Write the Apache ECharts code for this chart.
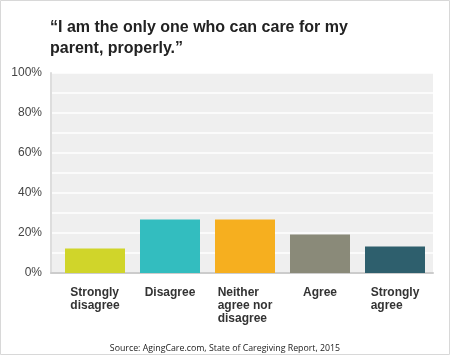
<!DOCTYPE html>
<html><head><meta charset="utf-8">
<script src="https://cdn.jsdelivr.net/npm/echarts@6/dist/echarts.min.js"></script>
<style>html,body{margin:0;padding:0;background:#fff}#c{width:450px;height:355px}</style>
</head><body><div id="c"></div>
<script>
const categories = ['Strongly\ndisagree', 'Disagree', 'Neither\nagree nor\ndisagree', 'Agree', 'Strongly\nagree'];
const values = [12.2, 26.7, 26.7, 19.2, 13.2];
const barColors = ['#d0d52a', '#33bdbf', '#f6af1f', '#8a8a79', '#2e5f6d'];
const titleText = '\u201cI am the only one who can care for my\nparent, properly.\u201d';
const sourceText = 'Source: AgingCare.com, State of Caregiving Report, 2015';

const chart = echarts.init(document.getElementById('c'), null, {renderer: 'canvas'});
chart.setOption({
  animation: false,
  backgroundColor: '#fff',
  title: [{
    text: titleText, left: 50, top: 17, padding: 0,
    textStyle: {fontFamily: 'Liberation Sans', fontWeight: 'bold', fontSize: 16, lineHeight: 21, color: '#222'}
  }, {
    text: sourceText, left: 'center', top: 343, padding: 0,
    textStyle: {fontFamily: 'Open Sans', fontWeight: 'normal', fontSize: 8.8, lineHeight: 11, color: '#222'}
  }],
  graphic: [{
    type: 'rect', shape: {x: 0.5, y: 0.5, width: 449, height: 354},
    style: {fill: 'none', stroke: '#d8d8d8', lineWidth: 1}, silent: true, z: 100
  }],
  grid: [
    {left: 51, right: 17, top: 73, bottom: 82, show: true, backgroundColor: '#efefef', borderWidth: 0},
    {left: 57.5, right: 17.5, top: 73, bottom: 82}
  ],
  xAxis: [{
    gridIndex: 0, type: 'category', data: categories,
    axisLine: {show: true, lineStyle: {color: '#cccccc', width: 2}},
    axisTick: {show: false}, axisLabel: {show: false}, splitLine: {show: false}
  }, {
    gridIndex: 1, type: 'category', data: categories,
    axisLine: {show: false}, axisTick: {show: false},
    axisLabel: {
      interval: 0, margin: 13,
      formatter: v => v.split('\n').map(s => '{a|' + s + '}').join('\n'),
      rich: {a: {align: 'left', fontFamily: 'Liberation Sans', fontWeight: 'bold', fontSize: 12, lineHeight: 13, color: '#333'}}
    }
  }],
  yAxis: [{
    gridIndex: 0, type: 'value', min: 0, max: 100, interval: 10,
    axisLine: {show: true, lineStyle: {color: '#dddddd', width: 2}},
    axisTick: {show: false},
    splitLine: {show: true, lineStyle: {color: '#ffffff', width: 1.5}},
    axisLabel: {
      margin: 9, fontFamily: 'Liberation Sans', fontSize: 12, color: '#444',
      formatter: v => (v % 20 === 0 ? v + '%' : '')
    }
  }, {
    gridIndex: 1, type: 'value', min: 0, max: 100, interval: 10,
    axisLine: {show: false}, axisTick: {show: false}, axisLabel: {show: false}, splitLine: {show: false}
  }],
  series: [{
    type: 'bar', xAxisIndex: 1, yAxisIndex: 1, barWidth: 60,
    data: values.map((v, i) => ({value: v, itemStyle: {color: barColors[i]}}))
  }]
});
</script></body></html>
